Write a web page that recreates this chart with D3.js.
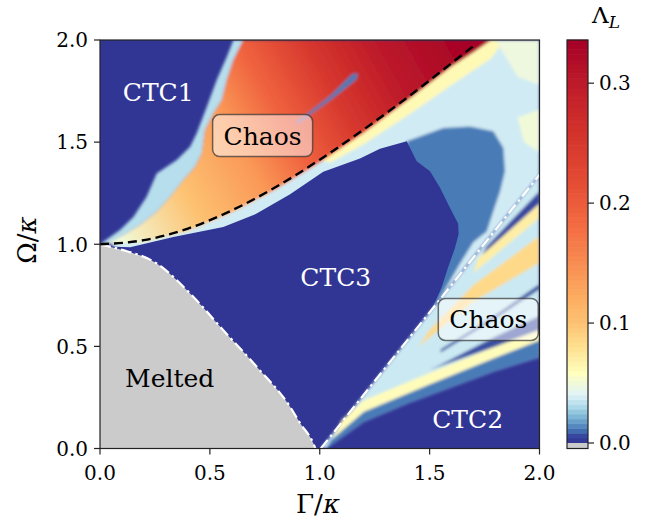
<!DOCTYPE html>
<html>
<head>
<meta charset="utf-8">
<script src="https://cdn.jsdelivr.net/npm/d3@7/dist/d3.min.js"></script>
<style>
  body { margin: 0; background: #fff; }
  text { font-family: "DejaVu Serif", serif; }
</style>
</head>
<body>
<svg width="650" height="520"></svg>
<script>
// colour bar (value -> colour)
var cbValues = [0, 0.005, 0.011, 0.02, 0.03, 0.04, 0.058, 0.08, 0.1, 0.12, 0.15, 0.18, 0.22, 0.26, 0.3, 0.336];
var cbColors = ["#313695", "#343d99", "#4575b4", "#74add1", "#abd9e9", "#e0f3f8", "#ffffbf", "#fee090",
                "#fdc272", "#fdae61", "#f88d52", "#f46d43", "#e34a33", "#d3322b", "#bd1a2a", "#a50026"];
var cbTicks = [0, 0.1, 0.2, 0.3];
var xTicks = [0, 0.5, 1, 1.5, 2];
var yTicks = [0, 0.5, 1, 1.5, 2];

// boundary curves (Gamma/kappa, Omega/kappa)
var dashedCurve = [[0, 1.0], [0.2, 1.02], [0.4, 1.077], [0.6, 1.166], [0.8, 1.28], [1.0, 1.414],
                   [1.2, 1.562], [1.4, 1.72], [1.6, 1.887], [1.71, 1.98]];
var meltCurve = [[0, 0.998], [0.106, 0.971], [0.258, 0.906], [0.41, 0.759], [0.561, 0.579],
                 [0.713, 0.40], [0.865, 0.204], [0.91, 0.125], [0.971, 0.024], [0.98, 0.0]];
var diagLine = [[1.005, 0.0], [2.0, 1.34]];

// chaotic band above the dashed line: left edge (top to bottom), then along the dashed line
var bodyLeft = [[0.652, 2.0], [0.607, 1.902], [0.577, 1.804], [0.554, 1.706], [0.516, 1.641],
                [0.478, 1.559], [0.463, 1.445], [0.432, 1.379], [0.379, 1.314], [0.319, 1.232],
                [0.258, 1.159], [0.182, 1.094], [0.106, 1.045], [0.03, 1.005], [0.0, 1.0]];
var bodyRight = [[0.2, 1.01], [0.4, 1.065], [0.6, 1.155], [0.8, 1.268], [1.0, 1.4], [1.2, 1.545],
                 [1.4, 1.705], [1.6, 1.87], [1.7, 1.94], [1.78, 2.0]];
var bodyAxis = [[0.1, 1.0], [1.68, 1.95]];
var bodyStops = [[0, 0.05], [0.2, 0.1], [0.38, 0.14], [0.5, 0.19], [0.65, 0.25], [0.8, 0.3], [1, 0.335]];
var streakShape = [[1.175, 1.835], [1.165, 1.805], [1.06, 1.715], [0.9, 1.59], [0.895, 1.598], [1.05, 1.73], [1.15, 1.835]];
var streakValue = 0.012;

// outer edge of the light fringe left of the band (bottom to top)
var fringeOuter = [[0, 1.0], [0.091, 1.07], [0.152, 1.134], [0.212, 1.232], [0.258, 1.347], [0.349, 1.412],
                   [0.41, 1.477], [0.44, 1.543], [0.486, 1.673], [0.531, 1.804], [0.577, 1.918], [0.607, 2.0]];
var fringeValue = 0.032;

// soft (speckled) regions above the CTC3 island
var upperValues = [0.037, 0.062, 0.048, 0.05];
var upperShapes = [
  // speckled band right of the dashed line
  [[0.05, 1.0], [0.2, 1.02], [0.4, 1.077], [0.6, 1.166], [0.8, 1.28], [1.0, 1.414], [1.2, 1.562],
   [1.4, 1.72], [1.6, 1.887], [1.75, 2.0], [2.0, 2.0], [2.0, 1.34], [1.52, 0.697], [1.0, 0.8], [0.1, 0.95]],
  // warm strip hugging the dashed line
  [[1.0, 1.41], [1.2, 1.558], [1.4, 1.716], [1.6, 1.883], [1.75, 2.0], [1.84, 2.0],
   [1.78, 1.91], [1.6, 1.78], [1.4, 1.63], [1.2, 1.49], [1.05, 1.4]],
  // top right corner
  [[1.8, 2.0], [2.0, 2.0], [2.0, 1.78], [1.9, 1.82]],
  // speckles along the right edge
  [[1.9, 1.62], [2.0, 1.66], [2.0, 1.45], [1.93, 1.5]]
];
var haloShape = [[1.396, 1.504], [1.562, 1.569], [1.684, 1.577], [1.79, 1.553], [1.836, 1.471], [1.843, 1.357],
                 [1.821, 1.259], [1.79, 1.161], [1.76, 1.063], [1.699, 1.01], [1.639, 0.906], [1.578, 0.792],
                 [1.52, 0.69], [1.4, 1.2]];
var haloValue = 0.012;

// CTC3 island (value 0)
var coreShape = [[0, 0.99], [0.137, 0.985], [0.334, 1.035], [0.561, 1.085], [0.713, 1.15], [0.865, 1.245],
                 [1.016, 1.355], [1.183, 1.42], [1.274, 1.468], [1.396, 1.504], [1.441, 1.406], [1.502, 1.357],
                 [1.548, 1.275], [1.593, 1.177], [1.63, 1.1], [1.632, 1.05], [1.615, 0.98], [1.585, 0.89],
                 [1.555, 0.79], [1.51, 0.68], [1.0, 0.0], [0, 0]];

// lower right chaotic wedge, bottom layer first
var wedgeValues = [0.036, 0.012, 0.06, 0.007, 0.008, 0.085, 0.07, 0.006];
var wedgeShapes = [
  // whole wedge
  [[1.005, 0.0], [2.0, 1.34], [2.0, 0.445], [1.8, 0.38], [1.6, 0.30], [1.4, 0.22], [1.2, 0.13], [1.03, 0.0]],
  // medium blue skirt above CTC2
  [[1.03, 0.0], [1.2, 0.13], [1.4, 0.22], [1.6, 0.30], [1.8, 0.38], [2.0, 0.445], [2.0, 0.53],
   [1.8, 0.445], [1.5, 0.315], [1.2, 0.18], [1.05, 0.04]],
  // pale yellow band
  [[1.06, 0.05], [1.2, 0.18], [1.5, 0.315], [1.8, 0.445], [2.0, 0.53], [2.0, 0.58], [1.8, 0.5],
   [1.5, 0.37], [1.2, 0.235], [1.1, 0.14]],
  // stripe behind the lower label
  [[1.5, 0.385], [1.8, 0.5], [2.0, 0.58], [2.0, 0.65], [1.8, 0.55], [1.55, 0.41]],
  // thin dark stripe
  [[1.55, 0.47], [1.8, 0.635], [2.0, 0.78], [2.0, 0.805], [1.8, 0.655], [1.55, 0.485]],
  // orange band
  [[1.45, 0.5], [1.7, 0.72], [2.0, 0.91], [2.0, 1.04], [1.7, 0.8], [1.5, 0.58]],
  // upper yellow band
  [[1.7, 0.86], [2.0, 1.13], [2.0, 1.2], [1.72, 0.93]],
  // dark stripe next to the dash-dot line
  [[1.74, 0.95], [2.0, 1.2], [2.0, 1.26], [1.76, 0.99]]
];

// text labels
var labelTexts = ["CTC1", "CTC3", "CTC2", "Melted"];
var labelGamma = [0.265, 1.073, 1.673, 0.317];
var labelOmega = [1.746, 0.841, 0.142, 0.344];
var labelColors = ["#fff", "#fff", "#fff", "#000"];
var chaosGamma = [0.74, 1.767];
var chaosOmega = [1.532, 0.632];

var svg = d3.select("svg");
var x = d3.scaleLinear().domain([0, 2]).range([100, 539.5]);
var y = d3.scaleLinear().domain([0, 2]).range([448.5, 40]);
var color = d3.scaleLinear().domain(cbValues).range(cbColors).clamp(true);
var vmax = cbValues[cbValues.length - 1];

var shape = d3.line().x(function(d) { return x(d[0]); }).y(function(d) { return y(d[1]); })
    .curve(d3.curveLinearClosed);

var defs = svg.append("defs");
defs.append("clipPath").attr("id", "plotclip").append("rect")
    .attr("x", x(0)).attr("y", y(2)).attr("width", x(2) - x(0)).attr("height", y(0) - y(2));
defs.append("filter").attr("id", "soft").attr("x", "-10%").attr("y", "-10%").attr("width", "120%").attr("height", "120%")
    .append("feGaussianBlur").attr("stdDeviation", 1.8);

var grad = defs.append("linearGradient").attr("id", "bodygrad").attr("gradientUnits", "userSpaceOnUse")
    .attr("x1", x(bodyAxis[0][0])).attr("y1", y(bodyAxis[0][1]))
    .attr("x2", x(bodyAxis[1][0])).attr("y2", y(bodyAxis[1][1]));
grad.selectAll("stop").data(bodyStops).enter().append("stop")
    .attr("offset", function(d) { return d[0]; })
    .attr("stop-color", function(d) { return color(d[1]); });

var plot = svg.append("g").attr("clip-path", "url(#plotclip)");
plot.append("rect")
    .attr("x", x(0)).attr("y", y(2)).attr("width", x(2) - x(0)).attr("height", y(0) - y(2))
    .attr("fill", color(0));

var soft1 = plot.append("g").attr("filter", "url(#soft)");
soft1.append("path").attr("d", shape(fringeOuter.concat(bodyLeft))).attr("fill", color(fringeValue));
soft1.selectAll("path.up").data(upperShapes).enter().append("path")
    .attr("d", shape)
    .attr("fill", function(d, i) { return color(upperValues[i]); });
soft1.append("path").attr("d", shape(bodyLeft.concat(bodyRight))).attr("fill", "url(#bodygrad)");
soft1.append("path").attr("d", shape(streakShape)).attr("fill", color(streakValue));
soft1.append("path").attr("d", shape(haloShape)).attr("fill", color(haloValue));

plot.append("path").attr("d", shape(coreShape)).attr("fill", color(0));

var soft2 = plot.append("g").attr("filter", "url(#soft)");
soft2.selectAll("path").data(wedgeShapes).enter().append("path")
    .attr("d", shape)
    .attr("fill", function(d, i) { return color(wedgeValues[i]); });

// melted phase
plot.append("path")
    .attr("d", d3.area().x(function(d) { return x(d[0]); }).y0(y(0)).y1(function(d) { return y(d[1]); })
        .curve(d3.curveMonotoneX)(meltCurve))
    .attr("fill", "#cbcbcb");

var curve = d3.line().x(function(d) { return x(d[0]); }).y(function(d) { return y(d[1]); })
    .curve(d3.curveMonotoneX);
plot.append("path").attr("d", curve(meltCurve)).attr("fill", "none")
    .attr("stroke", "#fff").attr("stroke-width", 2.2).attr("stroke-dasharray", "11,4,2.5,4");
plot.append("path").attr("d", curve(diagLine)).attr("fill", "none")
    .attr("stroke", "#fff").attr("stroke-width", 2.2).attr("stroke-dasharray", "11,4,2.5,4");
plot.append("path").attr("d", curve(dashedCurve)).attr("fill", "none")
    .attr("stroke", "#000").attr("stroke-width", 2.4).attr("stroke-dasharray", "9,5");

// region labels
svg.append("g").selectAll("text").data(labelTexts).enter().append("text")
    .attr("x", function(d, i) { return x(labelGamma[i]); })
    .attr("y", function(d, i) { return y(labelOmega[i]); })
    .attr("dy", "0.36em")
    .attr("text-anchor", "middle")
    .attr("font-size", 25)
    .attr("fill", function(d, i) { return labelColors[i]; })
    .text(function(d) { return d; });

var chaos = svg.append("g").selectAll("g").data(chaosGamma).enter().append("g")
    .attr("transform", function(d, i) { return "translate(" + x(d) + "," + y(chaosOmega[i]) + ")"; });
chaos.append("rect")
    .attr("x", -50).attr("y", -21).attr("width", 100).attr("height", 42).attr("rx", 7)
    .attr("fill", "#fff").attr("fill-opacity", 0.5)
    .attr("stroke", "#333").attr("stroke-opacity", 0.7).attr("stroke-width", 1.5);
chaos.append("text")
    .attr("text-anchor", "middle").attr("dy", "0.36em")
    .attr("font-size", 25).attr("fill", "#000")
    .text("Chaos");

// frame and axes
svg.append("rect")
    .attr("x", x(0)).attr("y", y(2)).attr("width", x(2) - x(0)).attr("height", y(0) - y(2))
    .attr("fill", "none").attr("stroke", "#222").attr("stroke-width", 1.2);

var xt = svg.append("g").selectAll("g").data(xTicks).enter().append("g");
xt.append("line").attr("x1", x).attr("x2", x).attr("y1", y(0)).attr("y2", y(0) + 6)
    .attr("stroke", "#222").attr("stroke-width", 1.2);
xt.append("text").attr("x", x).attr("y", y(0) + 31).attr("text-anchor", "middle")
    .attr("font-size", 20).text(d3.format(".1f"));

var yt = svg.append("g").selectAll("g").data(yTicks).enter().append("g");
yt.append("line").attr("y1", y).attr("y2", y).attr("x1", x(0) - 6).attr("x2", x(0))
    .attr("stroke", "#222").attr("stroke-width", 1.2);
yt.append("text").attr("x", x(0) - 12).attr("y", function(d) { return y(d) + 7.3; })
    .attr("text-anchor", "end").attr("font-size", 20).text(d3.format(".1f"));

var xl = svg.append("text").attr("x", 318).attr("y", 513).attr("text-anchor", "middle").attr("font-size", 26);
xl.append("tspan").text("Γ/");
xl.append("tspan").attr("font-style", "italic").text("κ");

var yl = svg.append("text").attr("transform", "translate(36,240) rotate(-90)")
    .attr("text-anchor", "middle").attr("font-size", 26);
yl.append("tspan").text("Ω/");
yl.append("tspan").attr("font-style", "italic").text("κ");

// colour bar
var cy = d3.scaleLinear().domain([0, vmax]).range([443, 40]);
var cbX = 567, cbW = 21;
var steps = d3.range(0, 84).map(function(i) { return i * vmax / 84; });
svg.append("g").selectAll("rect").data(steps).enter().append("rect")
    .attr("x", cbX).attr("width", cbW)
    .attr("y", function(d) { return cy(d + vmax / 84) - 0.3; })
    .attr("height", cy(0) - cy(vmax / 84) + 0.6)
    .attr("fill", function(d) { return color(d + vmax / 168); });
svg.append("rect").attr("x", cbX).attr("y", 443).attr("width", cbW).attr("height", 5.5).attr("fill", "#cbcbcb");
svg.append("rect").attr("x", cbX).attr("y", 40).attr("width", cbW).attr("height", 408.5)
    .attr("fill", "none").attr("stroke", "#222").attr("stroke-width", 1.2);

var ct = svg.append("g").selectAll("g").data(cbTicks).enter().append("g");
ct.append("line").attr("x1", cbX + cbW).attr("x2", cbX + cbW + 6).attr("y1", cy).attr("y2", cy)
    .attr("stroke", "#222").attr("stroke-width", 1.2);
ct.append("text").attr("x", cbX + cbW + 11).attr("y", function(d) { return cy(d) + 7.3; })
    .attr("font-size", 20).text(d3.format(".1f"));

var cl = svg.append("text").attr("x", 592).attr("y", 23).attr("font-size", 23);
cl.append("tspan").text("Λ");
cl.append("tspan").attr("font-style", "italic").attr("font-size", 17).attr("dy", 5).text("L");
</script>
</body>
</html>
